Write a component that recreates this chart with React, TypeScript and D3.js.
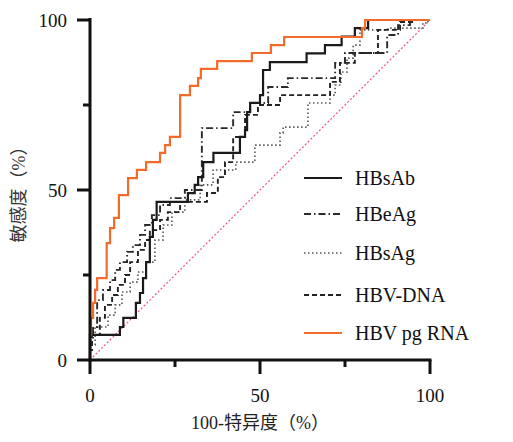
import React from "react";
import * as d3 from "d3";

// axis ticks
const xTicks = [0, 25, 50, 75, 100];
const yTicks = [0, 25, 50, 75, 100];
const labeledTicks = [0, 50, 100];

const seriesNames = ["HBsAb", "HBeAg", "HBsAg", "HBV-DNA", "HBV pg RNA"];

// ROC step points (100-specificity %, sensitivity %)
const hbsabFpr = [0, 8.8, 9.8, 13.5, 14.7, 15.6, 16.5, 17.6, 18.5, 19.6, 28.8, 30.8, 31.8, 33.3, 36.3, 44.1, 45.6, 46.2, 47.1, 50, 50.9, 52.9, 63.7, 69.1, 74, 77.9, 81.8, 100];
const hbsabTpr = [0, 7.4, 9.7, 12.4, 16.8, 19.7, 24.1, 28.8, 36.2, 41.2, 46.5, 49.1, 51.5, 53.8, 58.2, 60.9, 65.6, 67.6, 72.9, 75.6, 77.9, 85.3, 87.6, 90.2, 92.6, 95.1, 97.6, 100];

const hbeagFpr = [0, 0.9, 2.1, 3.8, 5.9, 7.4, 8.8, 10.9, 12.6, 14.7, 16.2, 18.2, 20.6, 23.5, 27.9, 32.9, 42.1, 47.1, 52.4, 58.2, 72.1, 75, 87.4, 90.6, 94.1, 100];
const hbeagTpr = [0, 5.9, 9.7, 17.6, 20.6, 23.5, 26.5, 28.8, 31.8, 33.8, 36.8, 39.7, 42.6, 45.6, 47.6, 50, 68.2, 72.9, 75.6, 80.3, 82.9, 87.4, 90.3, 95.6, 98.5, 100];

const hbsagFpr = [0, 1.5, 5.3, 7.4, 9.4, 11.8, 14.1, 16.5, 19.1, 21.5, 24.1, 27.9, 32.4, 36.2, 42.9, 48.5, 55.9, 56.8, 64.1, 70.6, 72.1, 73.8, 75.6, 77.4, 79.4, 87.6, 97.9, 99.4, 100];
const hbsagTpr = [0, 4.4, 9.7, 13.2, 16.2, 20, 22.9, 25.9, 28.8, 35.3, 39.7, 43.5, 47.1, 51.5, 55.9, 58.2, 63.2, 66.8, 68.5, 75.6, 77.9, 80.9, 84.7, 88.8, 92.6, 97.1, 97.6, 99.1, 100];

const dnaFpr = [0, 0.6, 2.9, 4.4, 6.5, 8.2, 10.3, 11.8, 14.1, 16.2, 17.6, 20.6, 22.9, 26.5, 34.4, 37.6, 39.7, 42.1, 45.6, 49.4, 55.9, 70.6, 73.5, 77.9, 84.7, 91.2, 95.6, 100];
const dnaTpr = [0, 2.9, 7.4, 12.4, 16.2, 19.1, 22.1, 25, 28.8, 32.4, 35.3, 38.2, 41.2, 43.5, 46.5, 49.1, 53.8, 58.2, 65.6, 72.1, 75, 77.9, 81.8, 87.4, 90.3, 97.1, 99.4, 100];

const rnaFpr = [0, 0.3, 0.9, 1.5, 2.1, 4.9, 5.9, 7.1, 8.5, 11.2, 13.8, 16.5, 20.6, 22.1, 23.5, 26.5, 29.4, 31.8, 32.6, 37.4, 47.6, 53.2, 57.1, 80, 80.9, 100];
const rnaTpr = [0, 7.4, 12.4, 16.8, 20.6, 24.1, 34.4, 38.8, 41.8, 48.5, 53.5, 55.9, 58.2, 60.9, 63.2, 65.6, 77.9, 80.6, 82.9, 85.6, 87.9, 90.3, 92.6, 95, 97.6, 100];

const diagonal = [0, 100];

const styles = [
  { color: "#1a1a1a", width: 2.2, dash: "" },
  { color: "#2a2a2a", width: 1.9, dash: "7,3,1.5,3" },
  { color: "#555555", width: 1.6, dash: "1.5,2.5" },
  { color: "#222222", width: 1.9, dash: "5,3" },
  { color: "#f26b2a", width: 2.2, dash: "" },
];

const zip = (a: number[], b: number[]) => a.map((v, i) => [v, b[i]] as [number, number]);

export default function App() {
  const x = d3.scaleLinear().domain([0, 100]).range([90, 430]);
  const y = d3.scaleLinear().domain([0, 100]).range([360, 20]);
  const line = d3
    .line<[number, number]>()
    .x((d) => x(d[0]))
    .y((d) => y(d[1]))
    .curve(d3.curveStepBefore);

  const series = [
    zip(hbsabFpr, hbsabTpr),
    zip(hbeagFpr, hbeagTpr),
    zip(hbsagFpr, hbsagTpr),
    zip(dnaFpr, dnaTpr),
    zip(rnaFpr, rnaTpr),
  ];
  const drawOrder = [2, 3, 1, 0, 4];
  const legendY = [178, 214, 253, 295, 333];
  const serif = "'Liberation Serif', 'Times New Roman', serif";
  const cjk = "'Liberation Serif', 'Noto Sans CJK SC', serif";

  return (
    <svg
      width={513}
      height={442}
      style={{ position: "absolute", left: 0, top: 0, background: "#fff" }}
    >
      {/* diagonal reference */}
      <line
        x1={x(diagonal[0])}
        y1={y(diagonal[0])}
        x2={x(diagonal[1])}
        y2={y(diagonal[1])}
        stroke="#ee5577"
        strokeWidth={1.2}
        strokeDasharray="2,2"
      />
      {drawOrder.map((i) => (
        <path
          key={i}
          d={line(series[i]) || ""}
          fill="none"
          stroke={styles[i].color}
          strokeWidth={styles[i].width}
          strokeDasharray={styles[i].dash}
        />
      ))}
      {/* axes */}
      <line x1={x(0)} y1={y(100) - 2} x2={x(0)} y2={y(0) + 1.5} stroke="#111" strokeWidth={3} />
      <line x1={x(0) - 1.5} y1={y(0)} x2={x(100) + 1.5} y2={y(0)} stroke="#111" strokeWidth={3} />
      {yTicks.map((t) => {
        const major = labeledTicks.includes(t);
        return (
          <g key={"y" + t}>
            <line x1={x(0) - (major ? 13 : 7)} x2={x(0)} y1={y(t)} y2={y(t)} stroke="#111" strokeWidth={3} />
            {major && (
              <text x={67} y={y(t)} textAnchor="end" dominantBaseline="central" fontFamily={serif} fontSize={19} fill="#111">
                {t}
              </text>
            )}
          </g>
        );
      })}
      {xTicks.map((t) => {
        const major = labeledTicks.includes(t);
        return (
          <g key={"x" + t}>
            <line x1={x(t)} x2={x(t)} y1={y(0)} y2={y(0) + (major ? 14 : 7)} stroke="#111" strokeWidth={3} />
            {major && (
              <text x={x(t)} y={395} textAnchor="middle" dominantBaseline="central" fontFamily={serif} fontSize={19} fill="#111">
                {t}
              </text>
            )}
          </g>
        );
      })}
      <text x={260} y={423} textAnchor="middle" dominantBaseline="central" fontFamily={cjk} fontSize={18} fill="#222">
        100-特异度（%）
      </text>
      <text
        transform={`translate(19,${y(50)}) rotate(-90)`}
        textAnchor="middle"
        dominantBaseline="central"
        fontFamily={cjk}
        fontSize={18}
        fill="#333"
      >
        敏感度（%）
      </text>
      {/* legend */}
      {seriesNames.map((name, i) => (
        <g key={name}>
          <line
            x1={304}
            x2={342}
            y1={legendY[i]}
            y2={legendY[i]}
            stroke={styles[i].color}
            strokeWidth={styles[i].width}
            strokeDasharray={styles[i].dash}
          />
          <text x={355} y={legendY[i]} dominantBaseline="central" fontFamily={serif} fontSize={20} fill="#111">
            {name}
          </text>
        </g>
      ))}
    </svg>
  );
}
